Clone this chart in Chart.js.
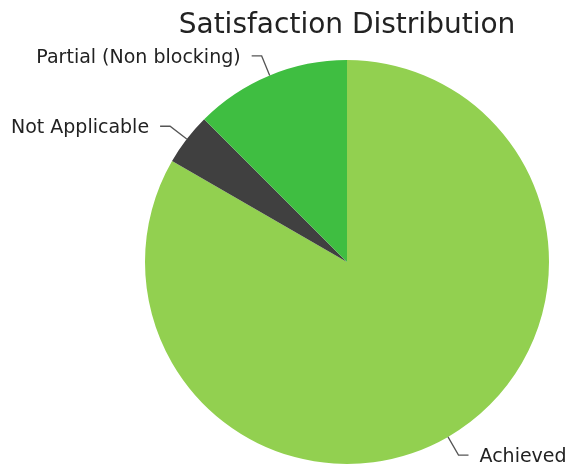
<!DOCTYPE html>
<html>
<head>
<meta charset="utf-8">
<script src="https://cdn.jsdelivr.net/npm/chart.js@4"></script>
<style>
    html, body { margin: 0; padding: 0; background: #ffffff; }
    #wrap { width: 569px; height: 470px; position: relative; }
</style>
</head>
<body>
<div id="wrap"><canvas id="satisfactionChart"></canvas></div>
<script>
// Chart data
const chartTitle = 'Satisfaction Distribution';
const categories = ['Achieved', 'Not Applicable', 'Partial (Non blocking)'];
const counts = [20, 1, 3];
const sliceColors = ['#92d050', '#404040', '#3fbe41'];

// Title centred over the pie
const titlePlugin = {
    id: 'pieTitle',
    afterDraw(chart) {
        const ctx = chart.ctx;
        const area = chart.chartArea;
        ctx.save();
        ctx.font = '28px "DejaVu Sans"';
        ctx.fillStyle = '#222222';
        ctx.textAlign = 'center';
        ctx.textBaseline = 'alphabetic';
        ctx.fillText(chartTitle, (area.left + area.right) / 2, 33);
        ctx.restore();
    }
};

// Labels outside the pie with elbow leader lines
const leaderLabels = {
    id: 'leaderLabels',
    afterDatasetsDraw(chart) {
        const ctx = chart.ctx;
        const meta = chart.getDatasetMeta(0);
        ctx.save();
        ctx.font = '19px "DejaVu Sans"';
        ctx.fillStyle = '#222222';
        ctx.strokeStyle = '#555555';
        ctx.lineWidth = 1.3;
        ctx.textBaseline = 'middle';
        meta.data.forEach((arc, i) => {
            const p = arc.getProps(['x', 'y', 'startAngle', 'endAngle', 'outerRadius'], true);
            const mid = (p.startAngle + p.endAngle) / 2;
            const cos = Math.cos(mid), sin = Math.sin(mid);
            const r1 = p.outerRadius;
            const r2 = p.outerRadius + 21;
            const dir = cos >= 0 ? 1 : -1;
            const x2 = p.x + cos * r2, y2 = p.y + sin * r2;
            ctx.beginPath();
            ctx.moveTo(p.x + cos * r1, p.y + sin * r1);
            ctx.lineTo(x2, y2);
            ctx.lineTo(x2 + dir * 10, y2);
            ctx.stroke();
            ctx.textAlign = dir > 0 ? 'left' : 'right';
            ctx.fillText(chart.data.labels[i], x2 + dir * 21, y2 + 2);
        });
        ctx.restore();
    }
};

document.addEventListener('DOMContentLoaded', function () {
    const ctx = document.getElementById('satisfactionChart').getContext('2d');

    new Chart(ctx, {
        type: 'pie',
        data: {
            labels: categories,
            datasets: [{
                data: counts,
                backgroundColor: sliceColors,
                borderWidth: 0
            }]
        },
        options: {
            responsive: true,
            maintainAspectRatio: false,
            animation: false,
            layout: {
                padding: { top: 59, bottom: 5, left: 145, right: 20 }
            },
            plugins: {
                legend: { display: false },
                title: { display: false },
                tooltip: { enabled: false }
            }
        },
        plugins: [titlePlugin, leaderLabels]
    });
});
</script>
</body>
</html>
